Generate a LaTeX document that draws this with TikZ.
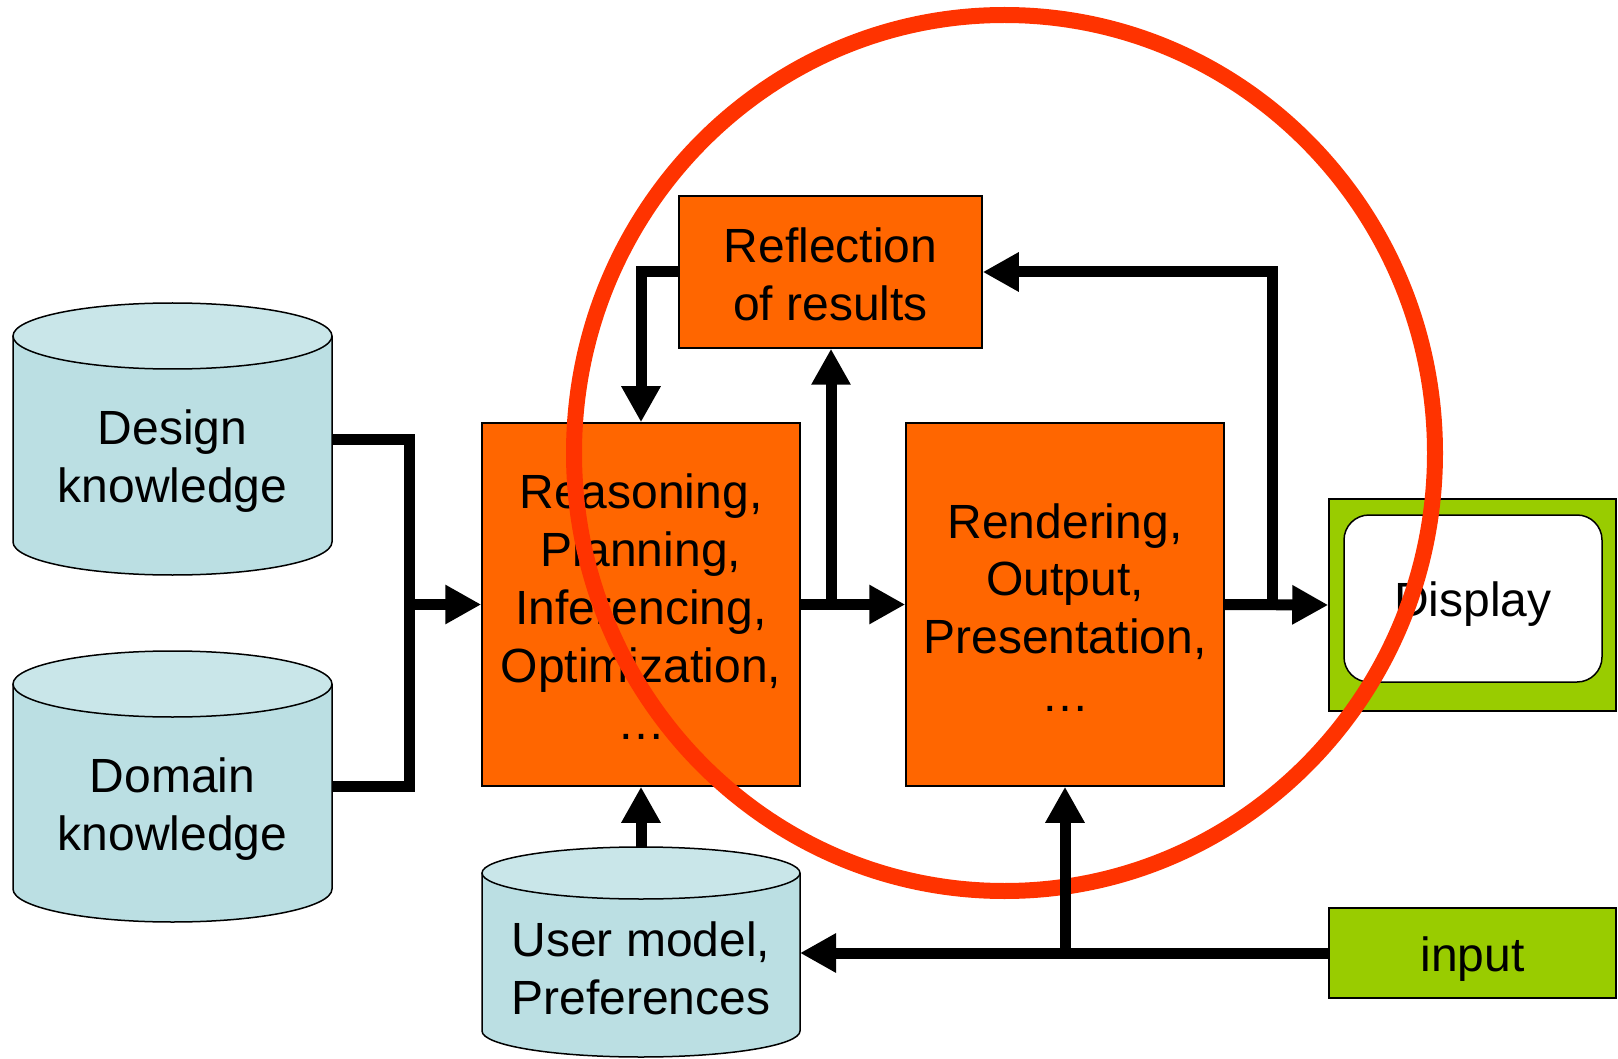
\documentclass[tikz,border=0pt]{standalone}
\usepackage{fontspec}
\setmainfont{Liberation Sans}
\usetikzlibrary{arrows.meta,calc}
\definecolor{orng}{HTML}{FF6600}
\definecolor{cylbody}{HTML}{BBDFE3}
\definecolor{cyltop}{HTML}{C9E6E9}
\definecolor{grn}{HTML}{99CC00}
\definecolor{circred}{HTML}{FF3300}
% #1 name, #2 cx, #3 rx, #4 top, #5 bottom, #6 ry
\newcommand\mycyl[6]{%
  \path[fill=cylbody,draw=black,line width=1.5pt] ({#2-#3},{#4+#6}) -- ({#2-#3},{#5-#6})
     arc[start angle=180,end angle=360,x radius=#3pt,y radius=#6pt] -- ({#2+#3},{#4+#6});
  \draw[fill=cyltop,line width=1.5pt] (#2,{#4+#6}) ellipse[x radius=#3pt,y radius=#6pt];
  \node[area,minimum width={2*#3pt},minimum height={(#5-#4)*1pt}] (#1) at (#2,{(#4+#5)/2}) {};
}
\begin{document}
\begin{tikzpicture}[x=1pt,y=-1pt,
  txt/.style={font=\fontsize{48}{57.8}\selectfont, align=center, inner sep=0pt},
  box/.style={draw, line width=1.5pt, rectangle, inner sep=0pt},
  proc/.style={box, fill=orng},
  area/.style={rectangle, inner sep=0pt, outer sep=0pt},
  conn/.style={line width=11pt},
  arr/.style={conn, -{Triangle[length=36pt,width=37pt]}},
]
\useasboundingbox (0,0) rectangle (1618,1059);

% databases
\mycyl{design}{172.5}{159.5}{303}{575}{33}
\node[txt] (design-t) at (172.5,461) {Design\\knowledge};
\mycyl{domain}{172.5}{159.5}{651}{922}{33}
\node[txt] (domain-t) at (172.5,809) {Domain\\knowledge};
\mycyl{user}{641}{159}{847}{1057}{26}
\node[txt] (user-t) at (641,968) {User model,\\Preferences};

% process boxes
\node[proc, minimum width=303pt, minimum height=152pt] (refl) at (830.5,272) {};
\node[txt] (refl-t) at (830.5,274) {Reflection\\of results};
\node[proc, minimum width=318pt, minimum height=363pt] (reason) at (641,604.5) {};
\node[txt] (reason-t) at (641,607) {Reasoning,\\Planning,\\Inferencing,\\Optimization,\\…};
\node[proc, minimum width=318pt, minimum height=363pt] (render) at (1065,604.5) {};
\node[txt] (render-t) at (1065,607.5) {Rendering,\\Output,\\Presentation,\\…};

% display and input
\node[box, fill=grn, minimum width=287pt, minimum height=212pt] (disp) at (1472.5,605) {};
\node[box, fill=white, rounded corners=25pt, minimum width=258pt, minimum height=167pt] (dispin) at (1473,598.5) {};
\node[txt] (disp-t) at (1473,604.5) {Display};
\node[box, fill=grn, minimum width=287pt, minimum height=90pt] (input) at (1472.5,953) {};
\node[txt] (input-t) at (1472.5,959) {input};

% red circle
\draw[circred, line width=16pt] (1004.5,453) ellipse[x radius=430.5pt, y radius=438pt];

% connectors
\coordinate (j1) at (409,604.5);
\draw[conn] (design.east) -| (j1) |- (domain.east);
\draw[arr] (j1) -- (reason.west);

\coordinate (j2) at (831,604.5);
\draw[arr] (reason.east) -- (render.west);
\draw[arr] (j2) -- (j2 |- refl.south);
\draw[arr] (refl.west) -| (reason.north);

\coordinate (j3) at (1272,604.5);
\draw[arr] (render.east) -- (disp.west);
\draw[arr] (j3) |- (refl.east);

\coordinate (j4) at (render.south |- input.west);
\draw[arr] (input.west) -- (input.west -| user.east);
\draw[arr] (j4) -- (render.south);
\draw[arr] (user.north) -- (reason.south);
\end{tikzpicture}
\end{document}
